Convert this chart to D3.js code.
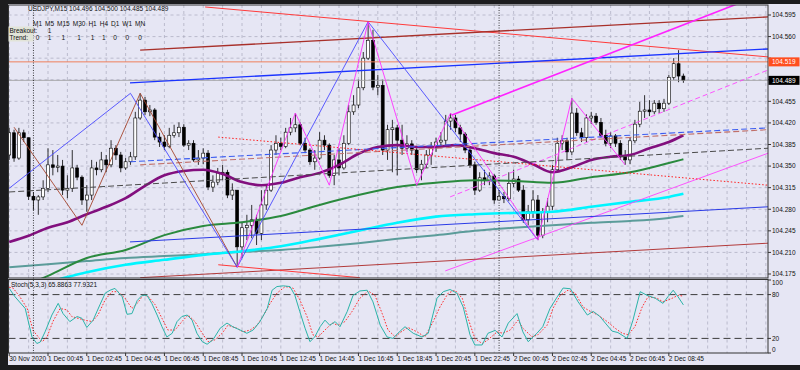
<!DOCTYPE html>
<meta charset="UTF-8">
<script src="https://cdnjs.cloudflare.com/ajax/libs/d3/7.4.4/d3.min.js"></script>
<style>
  body { margin: 0; background: #1c1c1e; }
  text { font-family: "Liberation Sans", Arial, sans-serif; font-size: 6.5px; fill: #111; }
</style>
<svg id="chart" width="800" height="370"></svg>
<script>
// USDJPY M15, bar 0 = 30 Nov 22:45 ... bar 139 = 2 Dec 09:30
const firstOpen = 104.368;
const closes = [104.404,104.363,104.404,104.396,104.301,104.295,104.300,104.314,104.352,104.348,
  104.350,104.311,104.314,104.347,104.332,104.295,104.303,104.347,104.344,104.360,
  104.352,104.379,104.368,104.347,104.357,104.365,104.428,104.457,104.438,104.441,
  104.397,104.389,104.382,104.400,104.404,104.413,104.384,104.387,104.360,104.363,
  104.371,104.316,104.324,104.339,104.340,104.303,104.311,104.219,104.250,104.254,
  104.263,104.241,104.287,104.311,104.376,104.387,104.382,104.405,104.412,104.417,
  104.387,104.376,104.357,104.363,104.392,104.384,104.335,104.360,104.347,104.387,
  104.438,104.449,104.477,104.525,104.554,104.478,104.481,104.376,104.409,104.412,
  104.392,104.379,104.386,104.376,104.344,104.353,104.368,104.382,104.389,104.392,
  104.423,104.428,104.412,104.402,104.376,104.352,104.311,104.331,104.327,104.334,
  104.295,104.301,104.297,104.322,104.329,104.311,104.263,104.276,104.295,104.238,
  104.276,104.285,104.344,104.387,104.391,104.373,104.436,104.404,104.396,104.428,
  104.431,104.421,104.400,104.387,104.399,104.387,104.366,104.360,104.391,104.418,
  104.439,104.441,104.438,104.452,104.443,104.452,104.494,104.516,104.496,104.489];
const highs = [104.412,104.409,104.412,104.409,104.392,104.308,104.303,104.327,104.379,104.376,
  104.368,104.360,104.335,104.376,104.352,104.335,104.319,104.360,104.357,104.373,
  104.368,104.392,104.384,104.373,104.363,104.373,104.438,104.468,104.462,104.449,
  104.444,104.404,104.400,104.412,104.417,104.421,104.418,104.392,104.392,104.376,
  104.379,104.376,104.335,104.347,104.352,104.344,104.322,104.311,104.259,104.271,
  104.287,104.271,104.311,104.319,104.384,104.400,104.396,104.412,104.428,104.436,
  104.421,104.396,104.379,104.376,104.405,104.400,104.387,104.368,104.379,104.400,
  104.449,104.465,104.490,104.535,104.584,104.571,104.498,104.490,104.417,104.425,
  104.417,104.417,104.400,104.392,104.379,104.360,104.376,104.389,104.396,104.405,
  104.433,104.436,104.433,104.417,104.405,104.379,104.357,104.340,104.344,104.340,
  104.337,104.311,104.308,104.340,104.344,104.334,104.319,104.287,104.311,104.303,
  104.282,104.298,104.352,104.396,104.400,104.396,104.460,104.444,104.412,104.434,
  104.438,104.436,104.428,104.409,104.405,104.402,104.392,104.376,104.396,104.425,
  104.454,104.465,104.457,104.457,104.457,104.459,104.498,104.525,104.538,104.500];
const lows = [104.360,104.357,104.360,104.389,104.295,104.279,104.271,104.295,104.308,104.335,
  104.340,104.303,104.298,104.308,104.327,104.287,104.276,104.295,104.335,104.340,
  104.340,104.348,104.360,104.340,104.344,104.352,104.360,104.425,104.433,104.431,
  104.392,104.381,104.376,104.379,104.396,104.397,104.381,104.376,104.357,104.352,
  104.353,104.311,104.308,104.319,104.327,104.298,104.295,104.186,104.201,104.230,
  104.233,104.222,104.230,104.279,104.308,104.368,104.376,104.379,104.400,104.405,
  104.384,104.371,104.352,104.344,104.360,104.376,104.331,104.319,104.335,104.344,
  104.384,104.433,104.444,104.473,104.522,104.473,104.465,104.368,104.360,104.340,
  104.335,104.368,104.373,104.368,104.339,104.327,104.347,104.352,104.373,104.379,
  104.384,104.409,104.405,104.389,104.371,104.347,104.303,104.308,104.319,104.319,
  104.289,104.295,104.290,104.293,104.316,104.308,104.258,104.254,104.266,104.230,
  104.233,104.259,104.279,104.340,104.376,104.360,104.368,104.399,104.389,104.389,
  104.418,104.417,104.396,104.382,104.379,104.381,104.360,104.352,104.353,104.387,
  104.413,104.428,104.431,104.434,104.436,104.438,104.449,104.490,104.486,104.485];

// moving averages, read every 4 / 8 bars
const maBars4 = [0,4,8,12,16,20,24,28,32,36,40,44,48,52,56,60,64,68,72,76,80,84,88,92,96,100,104,108,112,116,120,124,128,132,136,139];
const maBars8 = [0,8,16,24,32,40,48,56,64,72,80,88,96,104,112,120,128,136,139];
const maPurple = [104.227,104.237,104.250,104.259,104.272,104.284,104.298,104.318,104.335,104.342,104.344,104.337,104.324,104.319,104.323,104.332,104.339,104.352,104.370,104.381,104.384,104.381,104.381,104.384,104.379,104.371,104.365,104.353,104.340,104.348,104.360,104.365,104.368,104.379,104.389,104.400];
const maGreen = [104.146,104.172,104.201,104.214,104.238,104.253,104.259,104.269,104.287,104.303,104.316,104.323,104.327,104.326,104.323,104.332,104.340,104.355,104.361];
const maCyan = [104.149,104.162,104.178,104.190,104.198,104.206,104.212,104.220,104.232,104.245,104.258,104.268,104.272,104.274,104.276,104.284,104.292,104.300,104.305];
const maTeal = [104.186,104.191,104.196,104.201,104.204,104.207,104.211,104.214,104.219,104.225,104.232,104.238,104.245,104.250,104.254,104.258,104.261,104.266,104.269];

// zigzags [bar, price]
const zigBlue = [[0,104.314],[25,104.468],[47,104.186],[74,104.584],[109,104.230]];
const zigBrown = [[1,104.413],[15,104.254],[27,104.468],[47,104.186]];
const zigPink = [[47,104.186],[59,104.436],[66,104.319],[74,104.584],[84,104.319],[91,104.436],[109,104.230],[116,104.460],[127,104.352]];

// trend lines [bar, price] pairs
const tlRed = [[40.4,104.608],[156.5,104.527]];
const tlDarkRed = [[27,104.538],[156.5,104.592]];
const tlBlue = [[24.9,104.485],[156.5,104.540]];
const tlMagenta = [[91.3,104.433],[150.1,104.613]];
const tlMagentaDash = [[90.9,104.300],[156.5,104.506]];
const tlMagentaLow = [[89.9,104.180],[156.5,104.371]];
const tlBlueDash = [[24.9,104.357],[156.5,104.412]];
const tlBrownDash = [[27,104.352],[156.5,104.409]];
const tlRedDot = [[43.1,104.397],[156.5,104.319]];
const tlGrayDash = [[0,104.308],[156.5,104.379]];
const tlBlueLow = [[24.9,104.227],[156.5,104.284]];
const tlRedLow = [[27,104.169],[156.5,104.225]];
const tlRedShort = [[43.1,104.190],[72.3,104.169]];
const hLinePrice = 104.519;
const bidPrice = 104.489;

// stochastic (5,3,3) [bar, value]
const stochMain = [[0,88.5],[1.2,77],[3.3,61],[4.7,22],[5.7,13],[6.4,15],[7.4,29],[8.8,52],[10.1,68],[11.1,54],[12.5,43],[14.0,50],[15.0,47.5],[16.0,35],[17.3,45],[18.7,66],[19.8,82],[20.8,86],[21.8,88.5],[23.3,77],[24.3,53],[25.3,54],[26.4,72],[27.4,79],[28.4,79],[29.4,68],[30.5,52],[31.5,36],[32.5,22],[33.6,27],[34.6,43],[35.6,50],[36.7,52],[37.7,45],[38.7,27],[39.8,15.5],[40.8,12],[42.0,18],[43.5,34],[44.9,41],[46.1,36],[47.6,31.5],[49.0,27],[50.3,31.5],[51.7,43],[53.2,61],[54.2,86],[55.2,91],[56.5,92],[57.9,91],[58.9,79],[59.9,57],[61.0,34],[62.0,15.5],[63.0,22],[64.1,36],[65.1,45],[66.1,38],[67.2,43],[68.2,36],[69.7,57],[70.9,79],[72.3,85],[73.8,86],[75.0,70],[76.5,38],[77.9,22],[79.1,20],[80.6,30],[81.6,36],[83.3,27],[85.1,22],[86.4,27],[88.2,75],[89.5,84],[90.9,87],[92.3,82],[93.6,63],[95.0,25],[96.0,11],[97.5,11],[98.7,27],[100.2,31],[101.6,22],[102.9,41],[104.7,54],[105.9,29],[107.0,15.5],[108.8,27],[110.0,36],[111.5,61],[113.0,77],[114.2,89],[115.7,88],[117.3,70],[119.2,52],[120.4,57],[121.8,50],[122.9,41],[124.3,30],[125.5,28],[127.4,20],[128.6,45],[130.1,84],[131.5,79],[133.2,75],[134.8,68],[135.8,77],[136.9,86],[137.9,77],[139,65.89]];
const stochSignal = [[0,90],[0.8,89],[2.2,77],[3.7,61],[4.9,31],[6.8,15.5],[7.8,22],[9.0,43],[10.5,61],[11.9,59],[12.9,50],[14.2,47.5],[15.6,45],[17.1,43],[18.3,52],[19.8,73],[21.2,84],[22.4,84],[23.9,75],[25.3,61],[26.4,68],[27.6,79],[28.6,78],[30.1,66],[31.5,47.5],[32.7,31.5],[34.2,31.5],[35.6,43],[36.9,52],[38.3,43],[39.8,27],[41.0,15.5],[42.4,18],[43.9,27],[45.1,38],[46.9,34],[48.2,29],[49.7,31.5],[51.1,38],[52.3,50],[53.8,68],[55.2,82],[56.9,91],[58.5,89],[59.9,73],[61.4,50],[62.6,25],[63.7,22],[65.1,31.5],[66.6,41],[67.8,38],[69.2,43],[70.7,57],[72.3,75],[74.0,85],[75.4,79],[76.9,54],[78.1,31.5],[79.6,22],[80.6,28],[82.2,35],[84.1,29],[85.7,22],[87.4,43],[88.8,63],[90.5,82],[91.9,86],[93.4,75],[94.6,47.5],[96.0,20],[97.5,13],[98.7,18],[100.6,29],[101.8,27],[103.3,31.5],[104.9,45],[105.9,34],[107.8,22],[109.0,25],[110.9,38],[112.1,61],[113.6,79],[115.2,86],[116.7,82],[118.3,63],[119.8,57],[121.4,52],[123.3,43],[124.9,34],[126.4,27],[127.6,25],[129.0,36],[130.5,63],[131.7,77],[133.6,75],[134.8,70],[136.7,75],[137.9,79],[139,77.93]];

const priceTicks = [104.595,104.560,104.525,104.490,104.455,104.420,104.385,104.350,104.315,104.280,104.245,104.210,104.175];
const stochTicks = [100,80,20,0];
const stochLevels = [80,20];
const timeLabelBars = [0,8,16,24,32,40,48,56,64,72,80,88,96,104,112,120,128,136];
const timeLabels = ["30 Nov 2020","1 Dec 00:45","1 Dec 02:45","1 Dec 04:45","1 Dec 06:45","1 Dec 08:45","1 Dec 10:45","1 Dec 12:45","1 Dec 14:45","1 Dec 16:45","1 Dec 18:45","1 Dec 20:45","1 Dec 22:45","2 Dec 00:45","2 Dec 02:45","2 Dec 04:45","2 Dec 06:45","2 Dec 08:45"];
const daySepBars = [5,101];
const tfNames = ["M1","M5","M15","M30","H1","H4","D1","W1","MN"];
const breakoutVals = ["'","1","'","'","'","'","'","'","'"];
const trendVals = [0,1,1,1,1,1,0,0,0];
const header = "USDJPY,M15  104.496 104.500 104.485 104.489";
const stochHeader = "Stoch(5,3,3) 65.8863 77.9321";

const svg = d3.select("#chart");
const L = 8.5, R = 768, T = 5, MB = 278, ST = 279.5, SB = 353;

svg.append("rect").attr("width", 800).attr("height", 370).attr("fill", "#1c1c1e");
svg.append("rect").attr("x", 8).attr("y", 4).attr("width", 792).attr("height", 361).attr("fill", "#e6e6f4");

const x = d3.scaleLinear().domain([0, 139]).range([9.2, 683.4]);
const y = d3.scaleLinear().domain([104.175, 104.595]).range([274, 15]);
const ys = d3.scaleLinear().domain([0, 100]).range([353, 280]);

const defs = svg.append("defs");
defs.append("clipPath").attr("id", "clipMain").append("rect")
    .attr("x", L).attr("y", T).attr("width", R - L).attr("height", MB - T);
defs.append("clipPath").attr("id", "clipStoch").append("rect")
    .attr("x", L).attr("y", ST).attr("width", R - L).attr("height", SB - ST);

const main = svg.append("g").attr("clip-path", "url(#clipMain)");
const sto = svg.append("g").attr("clip-path", "url(#clipStoch)");

// grid
const gridBars = d3.range(0, 157, 4);
[[main, T, MB], [sto, ST, SB]].forEach(([g, y0, y1]) => {
    g.append("g").selectAll("line").data(gridBars).join("line")
        .attr("x1", d => x(d)).attr("x2", d => x(d)).attr("y1", y0).attr("y2", y1)
        .attr("stroke", "#a9a9bd").attr("stroke-width", 0.7).attr("stroke-dasharray", "3,3");
});
main.append("g").selectAll("line").data(priceTicks).join("line")
    .attr("x1", L).attr("x2", R).attr("y1", d => y(d)).attr("y2", d => y(d))
    .attr("stroke", "#a9a9bd").attr("stroke-width", 0.7).attr("stroke-dasharray", "3,3");

// day separators
svg.append("g").selectAll("line").data(daySepBars).join("line")
    .attr("x1", d => x(d)).attr("x2", d => x(d)).attr("y1", T).attr("y2", SB)
    .attr("stroke", "#111").attr("stroke-width", 0.8).attr("stroke-dasharray", "1,1.5");

// candles
const bars = closes.map((c, i) => ({ i, o: i ? closes[i - 1] : firstOpen, h: highs[i], l: lows[i], c }));
const cg = main.append("g");
cg.selectAll("line").data(bars).join("line")
    .attr("x1", d => x(d.i)).attr("x2", d => x(d.i))
    .attr("y1", d => y(Math.max(d.h, d.o, d.c))).attr("y2", d => y(Math.min(d.l, d.o, d.c)))
    .attr("stroke", "#000").attr("stroke-width", 0.8);
cg.selectAll("rect").data(bars).join("rect")
    .attr("x", d => x(d.i) - 1.5).attr("width", 3)
    .attr("y", d => y(Math.max(d.o, d.c)))
    .attr("height", d => Math.max(0.8, Math.abs(y(d.o) - y(d.c))))
    .attr("fill", d => d.c >= d.o ? "#fff" : "#000")
    .attr("stroke", "#000").attr("stroke-width", 0.6);

// horizontal price lines
main.append("line").attr("x1", L).attr("x2", R).attr("y1", y(bidPrice)).attr("y2", y(bidPrice))
    .attr("stroke", "#9a9a9a").attr("stroke-width", 0.8);
main.append("line").attr("x1", L).attr("x2", R).attr("y1", y(hLinePrice)).attr("y2", y(hLinePrice))
    .attr("stroke", "#ef7f5c").attr("stroke-width", 1);

const pLine = d3.line().x(d => x(d[0])).y(d => y(d[1]));
const maLine = d3.line().curve(d3.curveMonotoneX).x(d => x(d[0])).y(d => y(d[1]));
const zipMA = (bs, vals) => bs.map((b, k) => [b, vals[k]]);

// moving averages
[[maTeal, maBars8, "#5b9c9a", 2], [maCyan, maBars8, "#00f5ff", 2.6], [maGreen, maBars8, "#2a8a3e", 2],
 [maPurple, maBars4, "#820f7e", 2.6]].forEach(([vals, bs, col, w]) => {
    main.append("path").attr("d", maLine(zipMA(bs, vals)))
        .attr("fill", "none").attr("stroke", col).attr("stroke-width", w);
});

// trend lines
const trendStyles = [
    [tlRed, "#ff3a3a", 1, null], [tlDarkRed, "#a8302a", 1.4, null], [tlBlue, "#1a33ff", 1.4, null],
    [tlMagenta, "#ff22ff", 1.6, null], [tlMagentaDash, "#ff44ff", 0.9, "5,3"], [tlMagentaLow, "#ff44ff", 0.9, null],
    [tlBlueDash, "#3b5cf0", 1.1, "6,3"], [tlBrownDash, "#c0706a", 1.1, "6,3"], [tlRedDot, "#ff2020", 1, "1.5,2"],
    [tlGrayDash, "#4a4a4a", 1, "6,3"], [tlBlueLow, "#2a3ae6", 1, null], [tlRedLow, "#b23a3a", 1, null],
    [tlRedShort, "#ff3a3a", 1, null]
];
trendStyles.forEach(([pts, col, w, dash]) => {
    main.append("path").attr("d", pLine(pts)).attr("fill", "none")
        .attr("stroke", col).attr("stroke-width", w).attr("stroke-dasharray", dash);
});

// zigzags
[[zigBrown, "#a5452e"], [zigBlue, "#4a4aff"], [zigPink, "#ff30ff"]].forEach(([pts, col]) => {
    main.append("path").attr("d", pLine(pts)).attr("fill", "none")
        .attr("stroke", col).attr("stroke-width", 0.9);
});

// stochastic
sto.append("g").selectAll("line").data(stochLevels).join("line")
    .attr("x1", L).attr("x2", R).attr("y1", d => ys(d)).attr("y2", d => ys(d))
    .attr("stroke", "#3c3c3c").attr("stroke-width", 1).attr("stroke-dasharray", "7,4");
const sLine = d3.line().x(d => x(d[0])).y(d => ys(d[1]));
sto.append("path").attr("d", sLine(stochSignal)).attr("fill", "none")
    .attr("stroke", "#ff3030").attr("stroke-width", 1).attr("stroke-dasharray", "1.6,1.6");
sto.append("path").attr("d", sLine(stochMain)).attr("fill", "none")
    .attr("stroke", "#2bb3a8").attr("stroke-width", 1);

// frames
svg.append("rect").attr("x", L).attr("y", T).attr("width", R - L).attr("height", MB - T)
    .attr("fill", "none").attr("stroke", "#333").attr("stroke-width", 1);
svg.append("rect").attr("x", L).attr("y", ST).attr("width", R - L).attr("height", SB - ST)
    .attr("fill", "none").attr("stroke", "#333").attr("stroke-width", 1);

// price axis; grid labels under the two marker boxes stay hidden, as in the terminal
const markers = [[hLinePrice, "#ff4e1f"], [bidPrice, "#000"]];
const visibleTicks = priceTicks.filter(p => markers.every(([m]) => Math.abs(y(p) - y(m)) > 8));
const pa = svg.append("g");
pa.selectAll("line").data(priceTicks).join("line")
    .attr("x1", R).attr("x2", R + 3).attr("y1", d => y(d)).attr("y2", d => y(d)).attr("stroke", "#333");
pa.selectAll("text").data(visibleTicks).join("text")
    .attr("x", 772).attr("y", d => y(d)).attr("dy", "0.35em").text(d => d.toFixed(3));
markers.forEach(([p, col]) => {
    pa.append("rect").attr("x", R + 0.5).attr("y", y(p) - 4.5).attr("width", 31).attr("height", 9).attr("fill", col);
    pa.append("text").attr("x", 772).attr("y", y(p)).attr("dy", "0.35em").style("fill", "#fff").text(p.toFixed(3));
});

// stoch axis
const sa = svg.append("g");
sa.selectAll("line").data(stochTicks).join("line")
    .attr("x1", R).attr("x2", R + 3).attr("y1", d => ys(d)).attr("y2", d => ys(d)).attr("stroke", "#333");
sa.selectAll("text").data(stochTicks).join("text")
    .attr("x", 772).attr("y", d => Math.min(349.5, Math.max(283, ys(d)))).attr("dy", "0.35em").text(d => d);

// time axis
const ta = svg.append("g");
ta.selectAll("line").data(timeLabelBars).join("line")
    .attr("x1", d => x(d)).attr("x2", d => x(d)).attr("y1", SB).attr("y2", SB + 3).attr("stroke", "#333");
ta.selectAll("text").data(timeLabelBars).join("text")
    .attr("x", d => x(d)).attr("y", 361).text((d, k) => timeLabels[k]);

// header texts
svg.append("text").attr("x", 28).attr("y", 10.5).text(header);
svg.append("text").attr("x", 11).attr("y", 287).text(stochHeader);
svg.append("rect").attr("x", 8.5).attr("y", 26.5).attr("width", 25).attr("height", 15).attr("fill", "#e2e4d8");
svg.append("text").attr("x", 9.5).attr("y", 32.5).text("Breakout:");
svg.append("text").attr("x", 9.5).attr("y", 40).text("Trend:");
let cx = 33;
tfNames.forEach((n, k) => {
    const t = svg.append("text").attr("x", cx).attr("y", 26).text(n);
    const w = t.node().getComputedTextLength();
    const mid = cx + w / 2;
    svg.append("text").attr("x", mid).attr("y", breakoutVals[k] === "1" ? 33 : 31)
        .attr("text-anchor", "middle").text(breakoutVals[k]);
    svg.append("text").attr("x", mid).attr("y", 40).attr("text-anchor", "middle").text(trendVals[k]);
    cx += w + 3;
});
</script>
